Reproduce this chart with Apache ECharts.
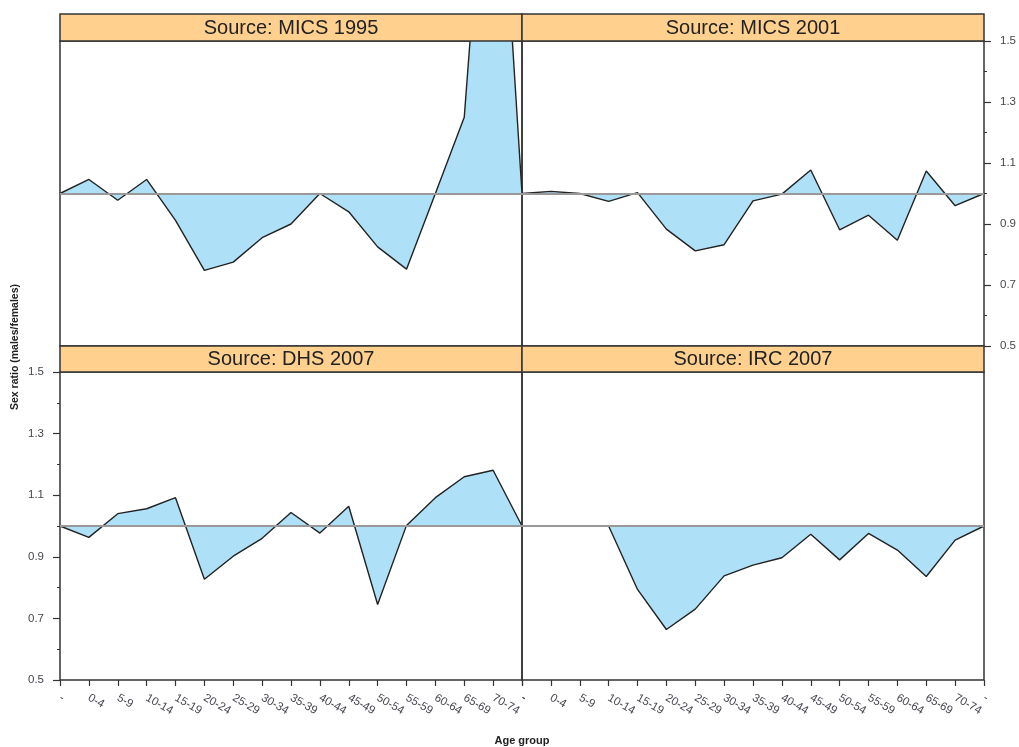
<!DOCTYPE html>
<html>
<head>
<meta charset="utf-8">
<script src="https://cdn.jsdelivr.net/npm/echarts@6/dist/echarts.min.js"></script>
<style>
  html, body { margin: 0; padding: 0; background: #fff; }
  #chart { width: 1019px; height: 747px; }
</style>
</head>
<body>
<div id="chart"></div>
<script>
// categories shared by every panel
const ageGroups = ['-', '0-4', '5-9', '10-14', '15-19', '20-24', '25-29', '30-34', '35-39',
  '40-44', '45-49', '50-54', '55-59', '60-64', '65-69', '70-74', '-'];

const panelTitles = ['Source: MICS 1995', 'Source: MICS 2001', 'Source: DHS 2007', 'Source: IRC 2007'];

// sex ratio (males/females) per age group
const mics1995 = [1.0, 1.046, 0.978, 1.046, 0.912, 0.748, 0.775, 0.855, 0.9, 1.0, 0.94, 0.825, 0.752, 1.0, 1.25, 2.5, 1.0];
const mics2001 = [1.0, 1.007, 1.0, 0.974, 1.003, 0.883, 0.812, 0.832, 0.976, 0.998, 1.077, 0.881, 0.929, 0.847, 1.074, 0.96, 1.0];
const dhs2007 = [1.0, 0.963, 1.04, 1.056, 1.092, 0.827, 0.902, 0.96, 1.044, 0.977, 1.064, 0.745, 1.002, 1.092, 1.16, 1.181, 1.0];
const irc2007 = [1.0, 0.999, 0.999, 1.0, 0.794, 0.664, 0.73, 0.838, 0.873, 0.897, 0.973, 0.89, 0.976, 0.922, 0.836, 0.954, 1.0];

const yMajorTicks = [0.5, 0.7, 0.9, 1.1, 1.3, 1.5];
const refValue = 1.0;

const panelData = [mics1995, mics2001, dhs2007, irc2007];

let chart = echarts.init(document.getElementById('chart'));

const labelColor = '#45454f';
const frameColor = '#333';
const grids = [
  { left: 60, top: 41, width: 462, height: 305 },
  { left: 522, top: 41, width: 462, height: 305 },
  { left: 60, top: 372, width: 462, height: 308 },
  { left: 522, top: 372, width: 462, height: 308 },
];
// which side the y ticks go on (lattice alternates)
const ySide = [null, 'right', 'left', null];

let xAxes = [], yAxes = [], series = [], graphics = [];

grids.forEach(function (g, i) {
  g.show = true;
  g.borderColor = frameColor;
  g.borderWidth = 1.5;
  g.backgroundColor = 'transparent';

  let bottomRow = i >= 2;
  xAxes.push({
    type: 'category',
    gridIndex: i,
    data: ageGroups,
    boundaryGap: false,
    axisLine: { show: false },
    axisTick: { show: bottomRow, length: 6, alignWithLabel: true, interval: 0, lineStyle: { color: frameColor, width: 1.2 } },
    axisLabel: {
      show: bottomRow,
      interval: 0,
      rotate: -30,
      margin: 17,
      color: labelColor,
      fontSize: 11.5,
      fontFamily: 'Liberation Sans, Arial, sans-serif',
    },
    splitLine: { show: false },
  });

  let side = ySide[i];
  // major ticks with labels
  yAxes.push({
    type: 'value',
    gridIndex: i,
    min: 0.5,
    max: 1.5,
    interval: 0.1,
    position: side || 'left',
    axisLine: { show: false },
    splitLine: { show: false },
    axisTick: { show: !!side, length: 7, customValues: yMajorTicks, lineStyle: { color: frameColor, width: 1.2 } },
    axisLabel: {
      show: !!side,
      customValues: yMajorTicks,
      margin: 16,
      color: labelColor,
      fontSize: 11.5,
      fontFamily: 'Liberation Sans, Arial, sans-serif',
      formatter: function (v) { return v.toFixed(1); },
    },
  });

  series.push({
    type: 'line',
    xAxisIndex: i,
    yAxisIndex: i,
    data: panelData[i],
    symbol: 'none',
    clip: true,
    lineStyle: { color: '#222', width: 1.4 },
    areaStyle: { origin: refValue, color: '#aee0f7', opacity: 1 },
    markLine: {
      silent: true,
      symbol: 'none',
      label: { show: false },
      lineStyle: { color: '#999', width: 2, type: 'solid' },
      data: [{ yAxis: refValue }],
    },
    z: 2,
  });

  // strip on top of each panel
  let stripH = bottomRow ? 26 : 27;
  graphics.push({
    type: 'rect',
    z: 100,
    shape: { x: g.left, y: g.top - stripH, width: g.width, height: stripH },
    style: { fill: '#ffd08e', stroke: frameColor, lineWidth: 1.5 },
  });
  graphics.push({
    type: 'text',
    z: 101,
    style: {
      text: panelTitles[i],
      x: g.left + g.width / 2,
      y: g.top - stripH / 2 + 0.5,
      textAlign: 'center',
      textVerticalAlign: 'middle',
      font: '20px "Liberation Sans", Arial, sans-serif',
      fill: '#222',
    },
  });
});

// minor ticks every 0.1 on the labelled sides
[1, 2].forEach(function (i) {
  yAxes.push({
    type: 'value',
    gridIndex: i,
    min: 0.5,
    max: 1.5,
    interval: 0.1,
    position: ySide[i],
    axisLine: { show: false },
    splitLine: { show: false },
    axisTick: { show: true, length: 3, lineStyle: { color: frameColor, width: 1 } },
    axisLabel: { show: false },
  });
});

graphics.push({
  type: 'text',
  rotation: Math.PI / 2,
  x: 15,
  y: 347,
  style: {
    text: 'Sex ratio (males/females)',
    textAlign: 'center',
    textVerticalAlign: 'middle',
    font: 'bold 10.5px "Liberation Sans", Arial, sans-serif',
    fill: '#222',
  },
});
graphics.push({
  type: 'text',
  style: {
    text: 'Age group',
    x: 522,
    y: 741,
    textAlign: 'center',
    textVerticalAlign: 'middle',
    font: 'bold 11px "Liberation Sans", Arial, sans-serif',
    fill: '#222',
  },
});

let option = {
  animation: false,
  backgroundColor: '#fff',
  grid: grids,
  xAxis: xAxes,
  yAxis: yAxes,
  series: series,
  graphic: graphics,
};

chart.setOption(option, true);
window.addEventListener('resize', function () {
  chart.resize();
});
</script>
</body>
</html>
